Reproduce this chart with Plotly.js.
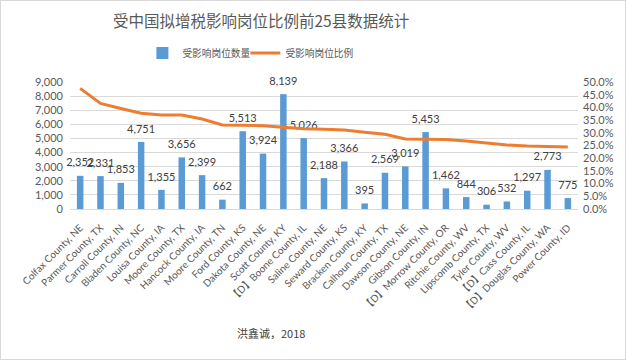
<!DOCTYPE html>
<html><head><meta charset="utf-8">
<script src="https://cdn.plot.ly/plotly-3.0.1.min.js"></script>
<style>
html,body{margin:0;padding:0;background:#fff;}
#wrap{position:relative;width:626px;height:360px;}
#chart{width:626px;height:360px;}
#frame{position:absolute;left:0;top:0;width:624px;height:358px;border:1px solid #d9d9d9;pointer-events:none;}
</style></head>
<body>
<div id="wrap"><div id="chart"></div><div id="frame"></div></div>
<script>
const counties = ["Colfax County, NE","Parmer County, TX","Carroll County, IN","Bladen County, NC","Louisa County, IA","Moore County, TX","Hancock County, IA","Moore County, TN","Ford County, KS","Dakota County, NE","Scott County, KY","【D】Boone County, IL","Saline County, NE","Seward County, KS","Bracken County, KY","Calhoun County, TX","Dawson County, NE","Gibson County, IN","【D】Morrow County, OR","Ritchie County, WV","Lipscomb County, TX","Tyler County, WV","【D】Cass County, IL","【D】Douglas County, WA","Power County, ID"];
const jobs = [2352,2331,1853,4751,1355,3656,2399,662,5513,3924,8139,5026,2188,3366,395,2569,3019,5453,1462,844,306,532,1297,2773,775];
const share = [0.475,0.416,0.396,0.377,0.370,0.370,0.354,0.331,0.330,0.328,0.322,0.316,0.314,0.311,0.302,0.294,0.276,0.276,0.274,0.268,0.259,0.252,0.248,0.245,0.244];
const seriesNames = ["受影响岗位数量","受影响岗位比例"];
const titleText = "受中国拟增税影响岗位比例前25县数据统计";
const sourceText = "洪鑫诚，2018";

const FONT = "Lato, 'Noto Sans CJK SC', sans-serif";
const data = [
  {type:'bar', name:seriesNames[0], x:counties, y:jobs, marker:{color:'#5b9bd5'}, hoverinfo:'x+y', legendwidth:58},
  {type:'scatter', mode:'lines', name:seriesNames[1], x:counties, y:share, yaxis:'y2',
   line:{color:'#ed7d31',width:3}},
  {type:'scatter', mode:'markers+text', x:counties, y:jobs, showlegend:false, hoverinfo:'skip',
   marker:{size:9, opacity:0}, text:jobs.map(v=>v.toLocaleString('en-US')), textposition:'top center',
   cliponaxis:false, textfont:{family:FONT,size:11,color:'#404040'}}
];
const layout = {
  width:626, height:360,
  margin:{l:70,r:48,t:82,b:151,pad:0},
  paper_bgcolor:'#fff', plot_bgcolor:'#fff',
  font:{family:FONT,size:11,color:'#595959'},
  title:{text:titleText, font:{family:"'Noto Sans CJK SC', sans-serif",size:15.5,color:'#595959'},
         x:0.417, xanchor:'center', xref:'container', y:1-22/360, yanchor:'middle', yref:'container'},
  showlegend:true,
  legend:{orientation:'h', x:0.40, xanchor:'center', xref:'container', y:1-53/360, yanchor:'middle', yref:'container',
          font:{family:"'Noto Sans CJK SC', sans-serif",size:9.7,color:'#595959'}, itemwidth:30, tracegroupgap:0},
  bargap:0.68,
  xaxis:{type:'category', range:[-0.5, counties.length-0.5], tickangle:-45, tickfont:{family:FONT,size:10,color:'#595959'},
         showgrid:false, showline:true, linecolor:'#d9d9d9', linewidth:1, ticks:'', automargin:false, ticklabelstandoff:8},
  yaxis:{range:[0,9000], dtick:1000, tickformat:',d', showgrid:true, gridcolor:'#d9d9d9',
         zeroline:false, showline:false, ticks:'', ticklabelstandoff:6, automargin:false,
         tickfont:{family:FONT,size:11,color:'#595959'}},
  yaxis2:{range:[0,0.5], dtick:0.05, tickformat:'.1%', overlaying:'y', side:'right',
          showgrid:false, zeroline:false, showline:false, ticks:'', ticklabelstandoff:4, automargin:false,
          tickfont:{family:FONT,size:11,color:'#595959'}},
  annotations:[{text:sourceText, xref:'paper', yref:'paper', x:(271-70)/508, y:-(333-209)/127,
                xanchor:'center', yanchor:'middle', showarrow:false,
                font:{family:"'Noto Sans CJK SC', sans-serif",size:11,color:'#404040'}}]
};
Plotly.newPlot('chart', data, layout, {staticPlot:true, displayModeBar:false});
</script>
</body></html>
